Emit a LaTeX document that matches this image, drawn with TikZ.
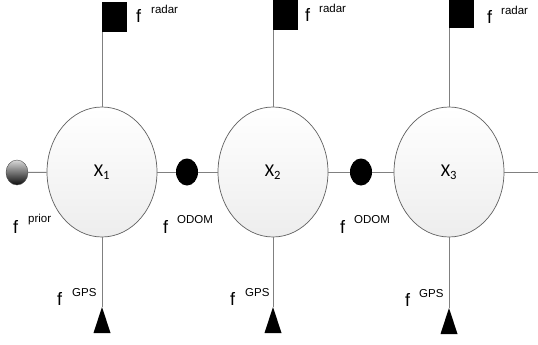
\documentclass[tikz,border=0pt]{standalone}
\usepackage{fontspec}
\setmainfont{Liberation Sans}
\newfontfamily\xfont{Carlito}
\usetikzlibrary{shapes.geometric}
\definecolor{linegray}{HTML}{808080}
\definecolor{rimgray}{HTML}{606060}
\tikzset{
  varnode/.style={ellipse, draw=rimgray, line width=0.7pt, top color=white, bottom color=black!7,
    minimum width=110pt, minimum height=130pt, inner sep=0pt, font=\xfont\fontsize{18}{18}\selectfont},
  odomfac/.style={ellipse, fill=black, minimum width=22pt, minimum height=27pt, inner sep=0pt},
  priorfac/.style={ellipse, draw=black!70, line width=0.4pt, top color=black!15, bottom color=black!95,
    minimum width=22pt, minimum height=25pt, inner sep=0pt},
  radarfac/.style={rectangle, fill=black, minimum width=25pt, minimum height=30pt, inner sep=0pt, anchor=south west},
  conn/.style={draw=linegray, line width=1pt},
  fletter/.style={anchor=base west, inner sep=0pt, font=\fontsize{18}{18}\selectfont},
  suplabel/.style={anchor=base west, inner sep=0pt, font=\fontsize{11.5}{11.5}\selectfont},
}
\begin{document}
\begin{tikzpicture}[x=1pt,y=-1pt]
\useasboundingbox (0,0) rectangle (538,345);
% variable nodes
\node[varnode] (e1) at (102,172) {X\textsubscript{1}};
\node[varnode] (e2) at (273,172) {X\textsubscript{2}};
\node[varnode] (e3) at (449,172) {X\textsubscript{3}};
% factors
\node[priorfac] (p) at (17,172.5) {};
\node[odomfac] (o1) at (187,172) {};
\node[odomfac] (o2) at (361,172) {};
\node[radarfac] (r1) at (102,32) {};
\node[radarfac] (r2) at (273,30) {};
\node[radarfac] (r3) at (449,28) {};
\coordinate (g1) at (102,307);
\coordinate (g2) at (273,307);
\coordinate (g3) at (449,308);
\coordinate (tail) at (538,172);
\foreach \g in {g1,g2,g3}{\fill (\g) -- ++(-8.5,26) -- ++(17,0) -- cycle;}
% connectors
\draw[conn] (p) -- (e1);
\draw[conn] (e1) -- (o1);
\draw[conn] (o1) -- (e2);
\draw[conn] (e2) -- (o2);
\draw[conn] (o2) -- (e3);
\draw[conn] (e3.east) -- (tail);
\draw[conn] (e1.north) -- (r1.south west);
\draw[conn] (e2.north) -- (r2.south west);
\draw[conn] (e3.north) -- (r3.south west);
\draw[conn] (e1.south) -- (g1);
\draw[conn] (e2.south) -- (g2);
\draw[conn] (e3.south) -- (g3);
% labels
\node[fletter] (fr1) at (136,23) {f};
\node[suplabel] (sr1) at (151,13.5) {radar};
\node[fletter] (fr2) at (305,22) {f};
\node[suplabel] (sr2) at (319,13) {radar};
\node[fletter] (fr3) at (487,24) {f};
\node[suplabel] (sr3) at (501,15) {radar};
\node[fletter] (fp) at (13,233) {f};
\node[suplabel] (sp) at (28,222) {prior};
\node[fletter] (fo1) at (163,233) {f};
\node[suplabel] (so1) at (177,223) {ODOM};
\node[fletter] (fo2) at (340,233) {f};
\node[suplabel] (so2) at (354,223) {ODOM};
\node[fletter] (fg1) at (57,305) {f};
\node[suplabel] (sg1) at (72,296) {GPS};
\node[fletter] (fg2) at (230,305) {f};
\node[suplabel] (sg2) at (245,296) {GPS};
\node[fletter] (fg3) at (405,306) {f};
\node[suplabel] (sg3) at (419,297) {GPS};
\end{tikzpicture}
\end{document}
